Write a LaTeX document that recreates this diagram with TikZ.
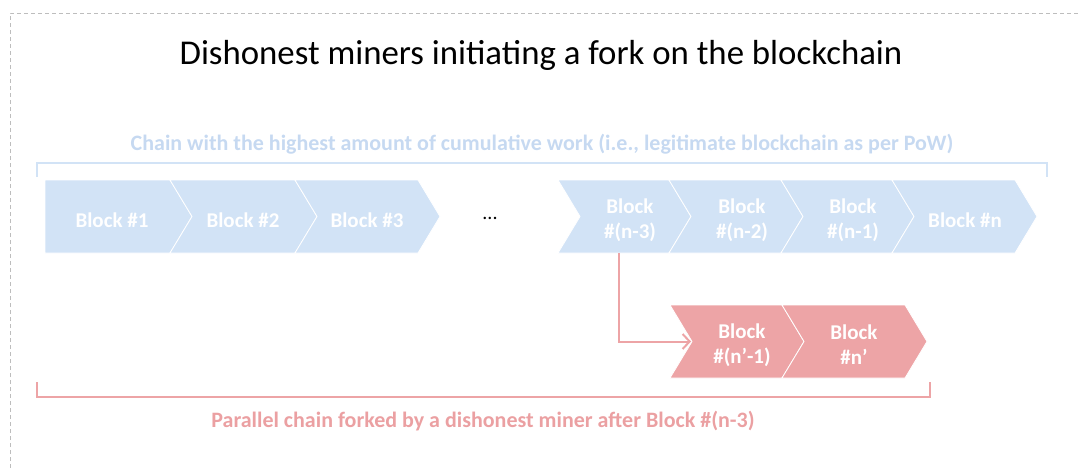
\documentclass[tikz,border=0pt]{standalone}
\usepackage{fontspec}
\setmainfont{Carlito}
\usetikzlibrary{arrows.meta,calc}
\definecolor{bfill}{HTML}{D2E3F6}
\definecolor{btext}{HTML}{C6D9F1}
\definecolor{rfill}{HTML}{EDA4A6}
\definecolor{rtext}{HTML}{EBA0A2}
\definecolor{framec}{HTML}{BDBDBD}
\begin{document}
\begin{tikzpicture}[x=1pt,y=-1pt,
  blk/.style={fill=bfill, draw=white, line width=0.8pt},
  rblk/.style={fill=rfill, draw=white, line width=0.8pt},
  lbl/.style={text=white, font=\fontsize{21}{25}\selectfont\bfseries, align=center, inner sep=0pt},
  bbr/.style={draw=bfill, line width=2pt},
  rbr/.style={draw=rfill, line width=2.4pt},
]
\useasboundingbox (0,0) rectangle (1081,468);
\draw[framec, line width=0.8pt, dash pattern=on 4pt off 3pt] (10,468) -- (10,13) -- (1081,13);

\node[anchor=base, font=\fontsize{34.8}{42}\selectfont] (title) at (541,65) {Dishonest miners initiating a fork on the blockchain};

\node[anchor=base, text=btext, font=\fontsize{22}{26}\selectfont\bfseries] (blabel) at (542,150) {Chain with the highest amount of cumulative work (i.e., legitimate blockchain as per PoW)};
\draw[bbr] (37,177) -- (37,163) -- (1047,163) -- (1047,177);

% blue blocks
\path[blk] (45,180) -- (170,180) -- (192,216.5) -- (170,253) -- (45,253) -- cycle;
\path[blk] (170,180) -- (295,180) -- (317,216.5) -- (295,253) -- (170,253) -- (192,216.5) -- cycle;
\path[blk] (295,180) -- (418,180) -- (440,216.5) -- (418,253) -- (295,253) -- (317,216.5) -- cycle;
\path[blk] (558,180) -- (669,180) -- (691,216.5) -- (669,253) -- (558,253) -- (580,216.5) -- cycle;
\path[blk] (669,180) -- (781,180) -- (803,216.5) -- (781,253) -- (669,253) -- (691,216.5) -- cycle;
\path[blk] (781,180) -- (892,180) -- (914,216.5) -- (892,253) -- (781,253) -- (803,216.5) -- cycle;
\path[blk] (892,180) -- (1015,180) -- (1037,216.5) -- (1015,253) -- (892,253) -- (914,216.5) -- cycle;

\node[lbl] (b1) at (112,220) {Block \#1};
\node[lbl] (b2) at (243,220) {Block \#2};
\node[lbl] (b3) at (367,220) {Block \#3};
\node[anchor=base, font=\fontsize{20}{24}\selectfont] (dots) at (490,219) {...};
\node[lbl] (bn3) at (630,220) {Block\\\#(n-3)};
\node[lbl] (bn2) at (742,220) {Block\\\#(n-2)};
\node[lbl] (bn1) at (853,220) {Block\\\#(n-1)};
\node[lbl] (bn) at (965,220) {Block \#n};
\coordinate (forkpt) at (619,253);

% red blocks
\path[rblk] (670,305) -- (782,305) -- (804,341.5) -- (782,378) -- (670,378) -- (692,341.5) -- cycle;
\path[rblk] (782,305) -- (905,305) -- (927,341.5) -- (905,378) -- (782,378) -- (804,341.5) -- cycle;
\coordinate (rnotch) at (691,341.5);
\node[lbl] (rp1) at (742,345) {Block\\\#(n’-1)};
\node[lbl] (rp) at (854,345) {Block\\\#n’};

\draw[draw=rfill, line width=2pt, -{Straight Barb[length=7pt,width=15pt,line width=2pt]}] (forkpt) |- (rnotch);

\draw[rbr] (37,382) -- (37,397) -- (930,397) -- (930,382);
\node[anchor=base, text=rtext, font=\fontsize{22}{26}\selectfont\bfseries] (rlabel) at (483,427) {Parallel chain forked by a dishonest miner after Block \#(n-3)};
\end{tikzpicture}
\end{document}
